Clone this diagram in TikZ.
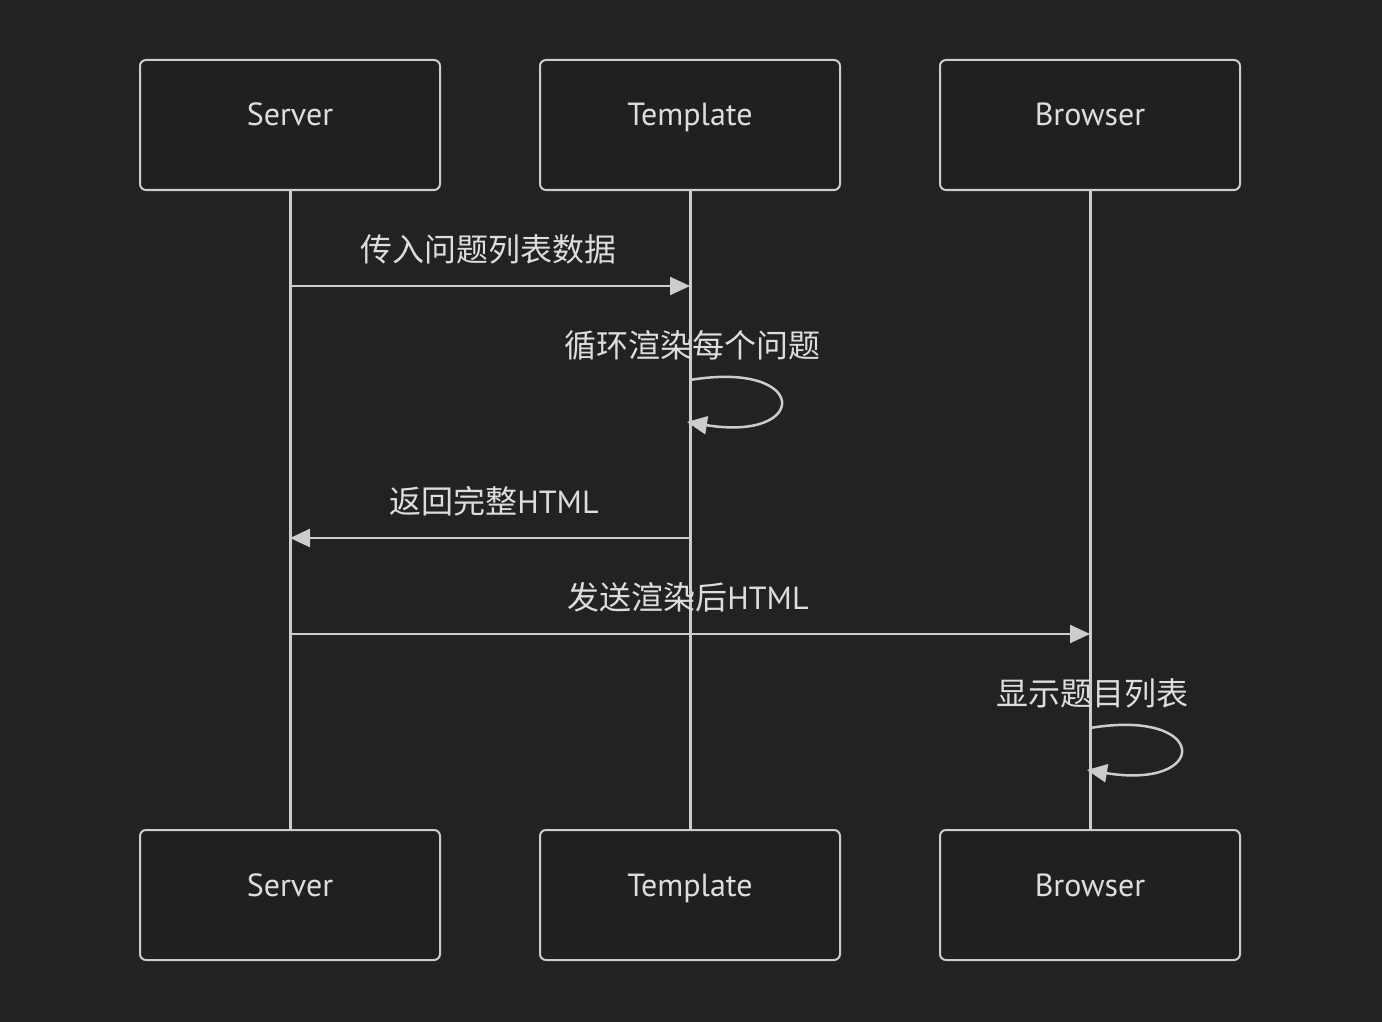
\documentclass[tikz,border=0pt]{standalone}
\usepackage{fontspec}
\setmainfont{PT Sans}
\newfontfamily\cjk{Noto Sans CJK SC}
\usetikzlibrary{arrows.meta}
\definecolor{bg}{HTML}{222222}
\definecolor{boxfill}{HTML}{1F2020}
\definecolor{edge}{HTML}{CCCCCC}
\definecolor{txt}{HTML}{DDDDDD}
\begin{document}
\begin{tikzpicture}[x=1pt,y=-1pt,
    actor/.style={draw=edge,fill=boxfill,line width=2pt,rounded corners=6pt,
                  minimum width=300pt,minimum height=130pt,text=txt,
                  text height=22pt,text depth=20pt,
                  font=\fontsize{32}{36}\selectfont},
    life/.style={draw=edge,line width=3pt},
    msg/.style={draw=edge,line width=2.5pt,-{Triangle[length=20pt,width=18pt]}},
    lbl/.style={text=txt,font=\fontsize{32}{38}\selectfont}]
  \fill[bg] (0,0) rectangle (1382,1022);
  \useasboundingbox (0,0) rectangle (1382,1022);

  % actors
  \node[actor] (srvtop) at (290,125) {Server};
  \node[actor] (tpltop) at (690,125) {Template};
  \node[actor] (brwtop) at (1090,125) {Browser};
  \node[actor] (srvbot) at (290,895) {Server};
  \node[actor] (tplbot) at (690,895) {Template};
  \node[actor] (brwbot) at (1090,895) {Browser};

  % lifelines
  \draw[life] (srvtop) -- (srvbot);
  \draw[life] (tpltop) -- (tplbot);
  \draw[life] (brwtop) -- (brwbot);

  % message points
  \coordinate (s1) at (290,286);
  \coordinate (t1) at (690,286);
  \coordinate (t2a) at (690,380);
  \coordinate (t2b) at (687,422);
  \coordinate (t3) at (690,538);
  \coordinate (s3) at (290,538);
  \coordinate (s4) at (290,634);
  \coordinate (b4) at (1090,634);
  \coordinate (b5a) at (1090,728);
  \coordinate (b5b) at (1087,770);

  \node[lbl] (l1) at (488,249) {\cjk 传入问题列表数据};
  \draw[msg] (s1) -- (t1);

  \node[lbl] (l2) at (692,345) {\cjk 循环渲染每个问题};
  \draw[msg] (t2a) .. controls (810,360) and (810,442) .. (t2b);

  \node[lbl] (l3) at (494,501) {{\cjk 返回完整}HTML};
  \draw[msg] (t3) -- (s3);

  \node[lbl] (l4) at (688,597) {{\cjk 发送渲染后}HTML};
  \draw[msg] (s4) -- (b4);

  \node[lbl] (l5) at (1092,693) {\cjk 显示题目列表};
  \draw[msg] (b5a) .. controls (1210,708) and (1210,790) .. (b5b);
\end{tikzpicture}
\end{document}
